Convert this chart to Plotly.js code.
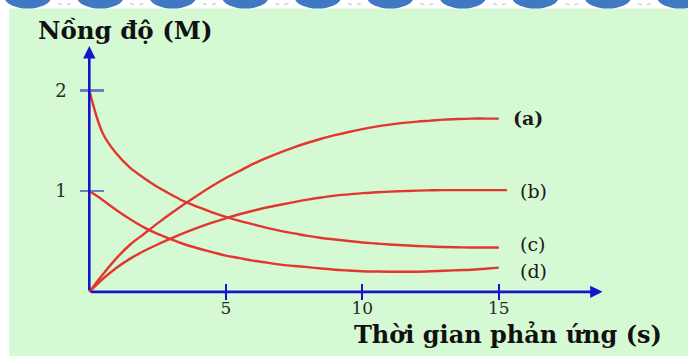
<!DOCTYPE html>
<html>
<head>
<meta charset="utf-8">
<script src="https://cdn.plot.ly/plotly-3.0.1.min.js"></script>
<style>html,body{margin:0;padding:0;background:#fff;}#chart{width:688px;height:356px;}</style>
</head>
<body>
<div id="chart"></div>
<script>
// ---- data ----
const timeS = [0, 0.5, 1, 1.5, 2, 2.5, 3, 3.5, 4, 4.5, 5, 5.5, 6, 6.5, 7, 7.5, 8, 8.5, 9, 9.5, 10, 10.5, 11, 11.5, 12, 12.5, 13, 13.5, 14, 14.5, 15];
const timeB = [0, 0.5, 1, 1.5, 2, 2.5, 3, 3.5, 4, 4.5, 5, 5.5, 6, 6.5, 7, 7.5, 8, 8.5, 9, 9.5, 10, 10.5, 11, 11.5, 12, 12.5, 13, 13.5, 14, 14.5, 15, 15.3];
const seriesA = [0, 0.175, 0.335, 0.47, 0.575, 0.68, 0.78, 0.875, 0.965, 1.05, 1.13, 1.2, 1.27, 1.33, 1.385, 1.435, 1.48, 1.52, 1.555, 1.587, 1.615, 1.64, 1.66, 1.677, 1.69, 1.70, 1.71, 1.716, 1.72, 1.72, 1.72];
const seriesB = [0, 0.13, 0.24, 0.33, 0.405, 0.47, 0.53, 0.587, 0.64, 0.687, 0.73, 0.77, 0.805, 0.837, 0.865, 0.891, 0.915, 0.936, 0.955, 0.968, 0.98, 0.988, 0.995, 1.0, 1.005, 1.008, 1.01, 1.01, 1.01, 1.01, 1.01, 1.01];
const seriesC = [2.0, 1.57, 1.37, 1.23, 1.13, 1.04, 0.965, 0.895, 0.84, 0.79, 0.745, 0.705, 0.67, 0.635, 0.605, 0.58, 0.555, 0.535, 0.52, 0.505, 0.49, 0.48, 0.47, 0.462, 0.455, 0.45, 0.445, 0.442, 0.44, 0.44, 0.44];
const seriesD = [1.0, 0.91, 0.81, 0.72, 0.64, 0.575, 0.52, 0.47, 0.43, 0.395, 0.36, 0.335, 0.31, 0.29, 0.27, 0.257, 0.245, 0.232, 0.22, 0.212, 0.205, 0.202, 0.2, 0.2, 0.2, 0.204, 0.21, 0.215, 0.22, 0.23, 0.24];
const seriesNames = ['(a)', '(b)', '(c)', '(d)'];
const xTickVals = [5, 10, 15];
const xTickText = ['5', '10', '15'];
const yTickVals = [1, 2];
const yTickText = ['1', '2'];
const yTitle = 'Nồng độ (M)';
const xTitle = 'Thời gian phản ứng (s)';

// ---- layout geometry ----
const W = 688, H = 356;
const L = 61.7, R = 80.3, T = 39.5, B = 43.8;
const PW = W - L - R, PH = H - T - B;
const fx = px => (px - L) / PW;
const fy = py => (H - B - py) / PH;

const red = '#e2362e';
const lineStyle = {color: red, width: 2.4, shape: 'spline', smoothing: 1};
const traces = [
  {x: timeS, y: seriesA, name: seriesNames[0]},
  {x: timeB, y: seriesB, name: seriesNames[1]},
  {x: timeS, y: seriesC, name: seriesNames[2]},
  {x: timeS, y: seriesD, name: seriesNames[3]}
].map(t => Object.assign(t, {type: 'scatter', mode: 'lines', line: lineStyle, showlegend: false, hoverinfo: 'skip'}));
traces.push({type: 'scatter', x: [], y: [], xaxis: 'x2', yaxis: 'y2', showlegend: false, hoverinfo: 'skip'});

const xr = [-1, 19], yr = [-0.2, 2.5];
const tickFont = {family: 'DejaVu Serif', size: 17, color: '#2a2a2a'};
const axisBlue = '#1414cc';

const shapes = [
  {type: 'rect', xref: 'paper', yref: 'paper', x0: fx(9), x1: fx(690), y0: fy(358), y1: fy(8),
   fillcolor: '#d5f9d3', line: {width: 0}, layer: 'below'}
];
for (let k = -1; k <= 9; k++) {
  const c = 27.5 + 72.5 * k;
  shapes.push({type: 'circle', xref: 'paper', yref: 'paper', x0: fx(c - 23), x1: fx(c + 23),
    y0: fy(8), y1: fy(-14), fillcolor: '#4078c4', line: {width: 0}, layer: 'below'});
  shapes.push({type: 'line', xref: 'paper', yref: 'paper', x0: fx(c + 30), x1: fx(c + 34),
    y0: fy(3), y1: fy(4), line: {color: '#b8bcc8', width: 1}, layer: 'below'});
  shapes.push({type: 'line', xref: 'paper', yref: 'paper', x0: fx(c + 39), x1: fx(c + 43),
    y0: fy(4), y1: fy(3), line: {color: '#b8bcc8', width: 1}, layer: 'below'});
}

const labelFont = {family: 'DejaVu Serif', size: 19, color: '#1a1a1a'};
const annotations = [
  // axes with arrowheads
  {xref: 'x', yref: 'y', axref: 'x', ayref: 'y', x: 18.8, y: 0, ax: 0, ay: 0, text: '', showarrow: true,
   arrowhead: 2, arrowsize: 0.95, arrowwidth: 2.6, arrowcolor: axisBlue, standoff: 0},
  {xref: 'x', yref: 'y', axref: 'x', ayref: 'y', x: 0, y: 2.44, ax: 0, ay: 0, text: '', showarrow: true,
   arrowhead: 2, arrowsize: 0.95, arrowwidth: 2.6, arrowcolor: axisBlue, standoff: 0},
  // curve labels
  {xref: 'x', yref: 'y', x: 15.45, y: 1.73, text: '<b>' + seriesNames[0] + '</b>', showarrow: false, xanchor: 'left', font: labelFont},
  {xref: 'x', yref: 'y', x: 15.7, y: 1.0, text: seriesNames[1], showarrow: false, xanchor: 'left', font: labelFont},
  {xref: 'x', yref: 'y', x: 15.7, y: 0.475, text: seriesNames[2], showarrow: false, xanchor: 'left', font: labelFont},
  {xref: 'x', yref: 'y', x: 15.7, y: 0.21, text: seriesNames[3], showarrow: false, xanchor: 'left', font: labelFont},
  // titles
  {xref: 'paper', yref: 'paper', x: fx(36), y: fy(30), xanchor: 'left', yanchor: 'middle', showarrow: false,
   text: '<b>' + yTitle + '</b>', font: {family: 'DejaVu Serif', size: 24.5, color: '#111'}},
  {xref: 'paper', yref: 'paper', x: fx(352), y: fy(335), xanchor: 'left', yanchor: 'middle', showarrow: false,
   text: '<b>' + xTitle + '</b>', font: {family: 'DejaVu Serif', size: 24, color: '#111'}}
];

const baseAxis = {showgrid: false, zeroline: false, showline: false, fixedrange: true};
const layout = {
  width: W, height: H,
  margin: {l: L, r: R, t: T, b: B, pad: 0},
  paper_bgcolor: '#ffffff', plot_bgcolor: 'rgba(0,0,0,0)',
  showlegend: false,
  xaxis: Object.assign({}, baseAxis, {range: xr, anchor: 'free', position: fy(292),
    tickmode: 'array', tickvals: xTickVals, ticktext: xTickText, ticks: 'outside', ticklen: 7,
    tickwidth: 2.4, tickcolor: axisBlue, tickfont: tickFont, ticklabelstandoff: -6}),
  xaxis2: Object.assign({}, baseAxis, {range: xr, overlaying: 'x', anchor: 'free', position: fy(292),
    tickmode: 'array', tickvals: xTickVals, ticks: 'inside', ticklen: 8, tickwidth: 2.4, tickcolor: axisBlue,
    showticklabels: false}),
  yaxis: Object.assign({}, baseAxis, {range: yr, anchor: 'free', position: fx(89),
    tickmode: 'array', tickvals: yTickVals, ticktext: yTickText, ticks: 'outside', ticklen: 9,
    tickwidth: 2.6, tickcolor: '#6a7cc8', tickfont: {family: 'DejaVu Serif', size: 18, color: '#2a2a2a'}, ticklabelstandoff: 10}),
  yaxis2: Object.assign({}, baseAxis, {range: yr, overlaying: 'y', anchor: 'free', position: fx(89),
    tickmode: 'array', tickvals: yTickVals, ticks: 'inside', ticklen: 14, tickwidth: 2.6, tickcolor: '#6a7cc8',
    showticklabels: false}),
  shapes: shapes,
  annotations: annotations
};

Plotly.newPlot('chart', traces, layout, {staticPlot: true, displayModeBar: false});
</script>
</body>
</html>
